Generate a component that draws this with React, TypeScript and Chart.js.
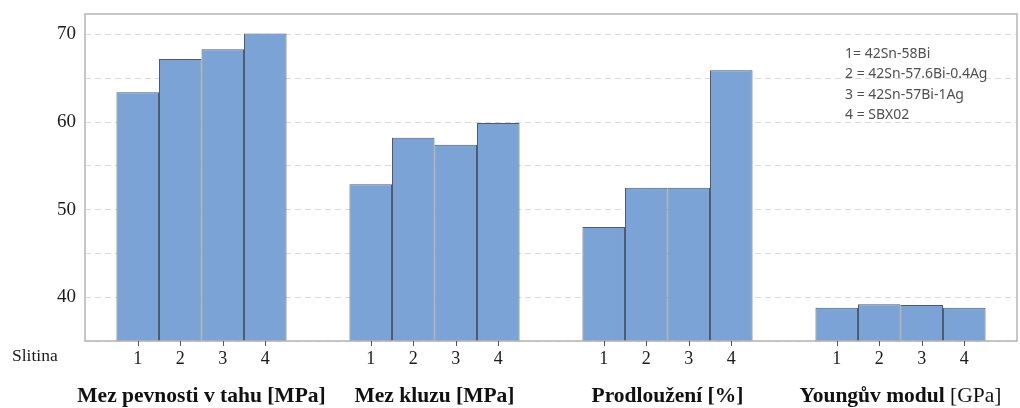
import React, { useEffect, useRef } from "react";
import { Chart, registerables } from "chart.js";

Chart.register(...registerables);

const groupTitles = ["Mez pevnosti v tahu", "Mez kluzu", "Prodloužení", "Youngův modul"];
const groupUnits = ["[MPa]", "[MPa]", "[%]", "[GPa]"];
const unitBold = [true, true, true, false];

const alloyIds = ["1", "2", "3", "4"];
const alloy1 = [63.4, 52.9, 48.0, 38.8];
const alloy2 = [67.2, 58.2, 52.5, 39.2];
const alloy3 = [68.3, 57.4, 52.5, 39.1];
const alloy4 = [70.1, 59.9, 65.9, 38.8];

const legendLines = ["1= 42Sn-58Bi", "2 = 42Sn-57.6Bi-0.4Ag", "3 = 42Sn-57Bi-1Ag", "4 = SBX02"];
const axisLabel = "Slitina";

const yMin = 35;
const yMax = 72.33;
const yStep = 5;

const SERIF = "'Liberation Serif', 'Times New Roman', serif";
const SANS = "'Noto Sans', 'Open Sans', sans-serif";

const overlay = {
  id: "overlay",
  afterDatasetsDraw(chart: any) {
    const ctx = chart.ctx;
    const a = chart.chartArea;
    ctx.save();
    // frame
    ctx.strokeStyle = "#b5b5b5";
    ctx.lineWidth = 1.5;
    ctx.strokeRect(a.left, a.top, a.right - a.left, a.bottom - a.top);

    // per-bar ticks and labels
    ctx.fillStyle = "#1a1a1a";
    ctx.font = `18px ${SERIF}`;
    ctx.textAlign = "center";
    ctx.textBaseline = "middle";
    const centers: number[][] = [];
    chart.data.datasets.forEach((ds: any, i: number) => {
      const meta = chart.getDatasetMeta(i);
      meta.data.forEach((bar: any, j: number) => {
        if (!centers[j]) centers[j] = [];
        centers[j].push(bar.x);
        ctx.strokeStyle = "#555";
        ctx.lineWidth = 1;
        ctx.beginPath();
        ctx.moveTo(Math.round(bar.x) + 0.5, a.bottom);
        ctx.lineTo(Math.round(bar.x) + 0.5, a.bottom + 5);
        ctx.stroke();
        ctx.fillText(alloyIds[i], bar.x, a.bottom + 18);
      });
    });

    // group titles
    ctx.textBaseline = "middle";
    ctx.textAlign = "left";
    groupTitles.forEach((t, j) => {
      const xs = centers[j];
      const cx = (xs[0] + xs[xs.length - 1]) / 2;
      const boldFont = `bold 21.5px ${SERIF}`;
      const unitFont = `${unitBold[j] ? "bold " : ""}21.5px ${SERIF}`;
      ctx.font = boldFont;
      const w1 = ctx.measureText(t + " ").width;
      ctx.font = unitFont;
      const w2 = ctx.measureText(groupUnits[j]).width;
      const start = cx - (w1 + w2) / 2;
      ctx.fillStyle = "#111";
      ctx.font = boldFont;
      ctx.fillText(t + " ", start, 396);
      ctx.font = unitFont;
      ctx.fillText(groupUnits[j], start + w1, 396);
    });

    // axis label
    ctx.font = `17.5px ${SERIF}`;
    ctx.fillStyle = "#1a1a1a";
    ctx.fillText(axisLabel, 12, 356);

    // legend text
    ctx.font = `14px ${SANS}`;
    ctx.fillStyle = "#505050";
    legendLines.forEach((l, k) => {
      ctx.fillText(l, 845, 54 + k * 20.5);
    });
    ctx.restore();
  },
};

export default function App() {
  const ref = useRef<HTMLCanvasElement>(null);
  useEffect(() => {
    const series = [alloy1, alloy2, alloy3, alloy4];
    const chart = new Chart(ref.current!, {
      type: "bar",
      data: {
        labels: groupTitles,
        datasets: series.map((d, i) => ({
          label: alloyIds[i],
          data: d,
          backgroundColor: "#7ba3d6",
          borderColor: "#4b5a6e",
          borderWidth: 1,
          categoryPercentage: 0.73,
          barPercentage: 1,
        })),
      },
      options: {
        responsive: false,
        animation: false,
        layout: { padding: { top: 14, right: 3, left: 0, bottom: 0 } },
        plugins: { legend: { display: false }, tooltip: { enabled: false } },
        scales: {
          x: {
            grid: { display: false },
            border: { display: false },
            ticks: { display: false },
            afterFit: (s: any) => {
              s.height = 67;
              s.paddingLeft = 0;
              s.paddingRight = 0;
            },
          },
          y: {
            min: yMin,
            max: yMax,
            border: { display: false, dash: [6, 4] },
            grid: {
              color: "#dadada",
              lineWidth: 1,
              drawTicks: false,
            },
            ticks: {
              stepSize: yStep,
              includeBounds: false,
              padding: 9,
              color: "#1a1a1a",
              font: { family: SERIF, size: 19 },
              callback: (v: any) => (Number(v) % 10 === 0 ? String(v) : ""),
            },
            afterFit: (s: any) => {
              s.width = 85;
              s.paddingTop = 0;
              s.paddingBottom = 0;
            },
          } as any,
        },
      },
      plugins: [overlay],
    });
    return () => chart.destroy();
  }, []);
  return (
    <div style={{ position: "fixed", left: 0, top: 0, width: 1020, height: 408, background: "#fff" }}>
      <canvas ref={ref} width={1020} height={408} />
    </div>
  );
}
